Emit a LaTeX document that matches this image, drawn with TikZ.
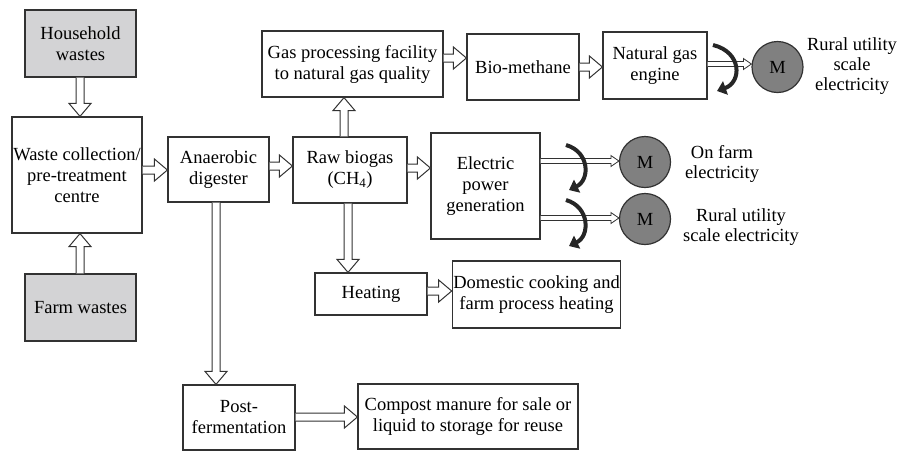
\documentclass[tikz,border=0pt]{standalone}
\usepackage{fontspec}
\setmainfont{Liberation Serif}
\usetikzlibrary{arrows.meta,calc}
\definecolor{edge}{RGB}{50,50,50}
\definecolor{wastegray}{RGB}{211,211,213}
\definecolor{motorgray}{RGB}{128,128,128}
\begin{document}
\begin{tikzpicture}[x=1pt,y=-1pt,
  box/.style={draw=edge,line width=1.2pt,align=center,inner sep=1pt,font=\fontsize{18.5}{21}\selectfont},
  waste/.style={box,fill=wastegray},
  motor/.style={circle,draw=edge,line width=1.2pt,fill=motorgray,minimum size=51pt,inner sep=0pt,font=\fontsize{18.5}{21}\selectfont},
  outtext/.style={align=center,font=\fontsize{18.5}{20}\selectfont},
  hollow/.style n args={3}{draw=edge,line width=1pt,fill=white,line join=miter,
    to path={let \p1=($(\tikztotarget)!#3!(\tikztostart)$) in
      ($(\tikztostart)!#1!90:(\tikztotarget)$) -- ($(\p1)!#1!90:(\tikztotarget)$)
      -- ($(\p1)!#2!90:(\tikztotarget)$) -- (\tikztotarget)
      -- ($(\p1)!#2!-90:(\tikztotarget)$) -- ($(\p1)!#1!-90:(\tikztotarget)$)
      -- ($(\tikztostart)!#1!-90:(\tikztotarget)$)}},
  flow/.style={hollow={4pt}{11pt}{13pt}},
  feed/.style={hollow={2.5pt}{5.5pt}{8pt},line width=0.8pt},
  turn/.style={line width=4pt,draw=black!85,-{Triangle[length=9pt,width=14pt]}}]
\useasboundingbox (0,0) rectangle (901,451);

\node (hh) at (80.5,43.5) [waste,minimum width=111pt,minimum height=67pt]{Household\\wastes};
\node (wc) at (77,175) [box,minimum width=130pt,minimum height=116pt]{Waste collection/\\pre-treatment\\centre};
\node (fw) at (80.5,307.5) [waste,minimum width=111pt,minimum height=67pt]{Farm wastes};
\node (ad) at (218.5,169.5) [box,minimum width=101pt,minimum height=65pt]{Anaerobic\\digester};
\node (rb) at (350,170) [box,minimum width=114pt,minimum height=66pt]{Raw biogas\\(CH\textsubscript{4})};
\node (gp) at (352.5,64) [box,minimum width=181pt,minimum height=66pt]{Gas processing facility\\to natural gas quality};
\node (bm) at (523,67) [box,minimum width=112pt,minimum height=66pt]{Bio-methane};
\node (ng) at (655,65.5) [box,minimum width=104pt,minimum height=67pt]{Natural gas\\engine};
\node (ep) at (485.5,186) [box,minimum width=109pt,minimum height=106pt]{Electric\\power\\generation};
\node (he) at (371,294) [box,minimum width=112pt,minimum height=42pt]{Heating};
\node (dc) at (536.5,294.5) [box,minimum width=167pt,minimum height=67pt]{Domestic cooking and\\farm process heating};
\node (pf) at (239,417.5) [box,minimum width=112pt,minimum height=65pt]{Post-\\fermentation};
\node (cm) at (468,416.5) [box,minimum width=220pt,minimum height=65pt]{Compost manure for sale or\\liquid to storage for reuse};

\node (m1) at (777.5,67) [motor]{M};
\node (m2) at (645,162) [motor]{M};
\node (m3) at (645,219) [motor]{M};
\node (t1) at (852,66) [outtext]{Rural utility\\scale\\electricity};
\node (t2) at (722,164) [outtext]{On farm\\electricity};
\node (t3) at (741,227) [outtext]{Rural utility\\scale electricity};

% main flow
\draw[flow] (hh.south -| 80,0) to (wc.north -| 80,0);
\draw[flow] (fw.north -| 80,0) to (wc.south -| 80,0);
\draw[flow] (wc.east |- 0,170) to (ad.west |- 0,170);
\draw[flow] (ad.east |- 0,166) to (rb.west |- 0,166);
\draw[flow] (rb.north -| 344,0) to (gp.south -| 344,0);
\draw[flow] (gp.east |- 0,58) to (bm.west |- 0,58);
\draw[flow] (bm.east |- 0,67) to (ng.west |- 0,67);
\draw[flow] (rb.east |- 0,168) to (ep.west |- 0,168);
\draw[flow] (rb.south -| 348,0) to (he.north -| 348,0);
\draw[flow] (he.east |- 0,291) to (dc.west |- 0,291);
\draw[flow] (ad.south -| 216,0) to (pf.north -| 216,0);
\draw[flow] (pf.east |- 0,417) to (cm.west |- 0,417);

% to the motors
\draw[feed] (ng.east |- 0,64) to (m1.west |- 0,64);
\draw[feed] (ep.east |- 0,161) to (m2.west |- 0,161);
\draw[feed] (ep.east |- 0,218) to (m3.west |- 0,218);

% turning arrows
\draw[turn] (713,45) .. controls (742,52) and (742,82) .. (717,91);
\draw[turn] (566,145) .. controls (590,152) and (590,180) .. (569,190);
\draw[turn] (566,200) .. controls (590,207) and (590,236) .. (569,246);
\end{tikzpicture}
\end{document}
